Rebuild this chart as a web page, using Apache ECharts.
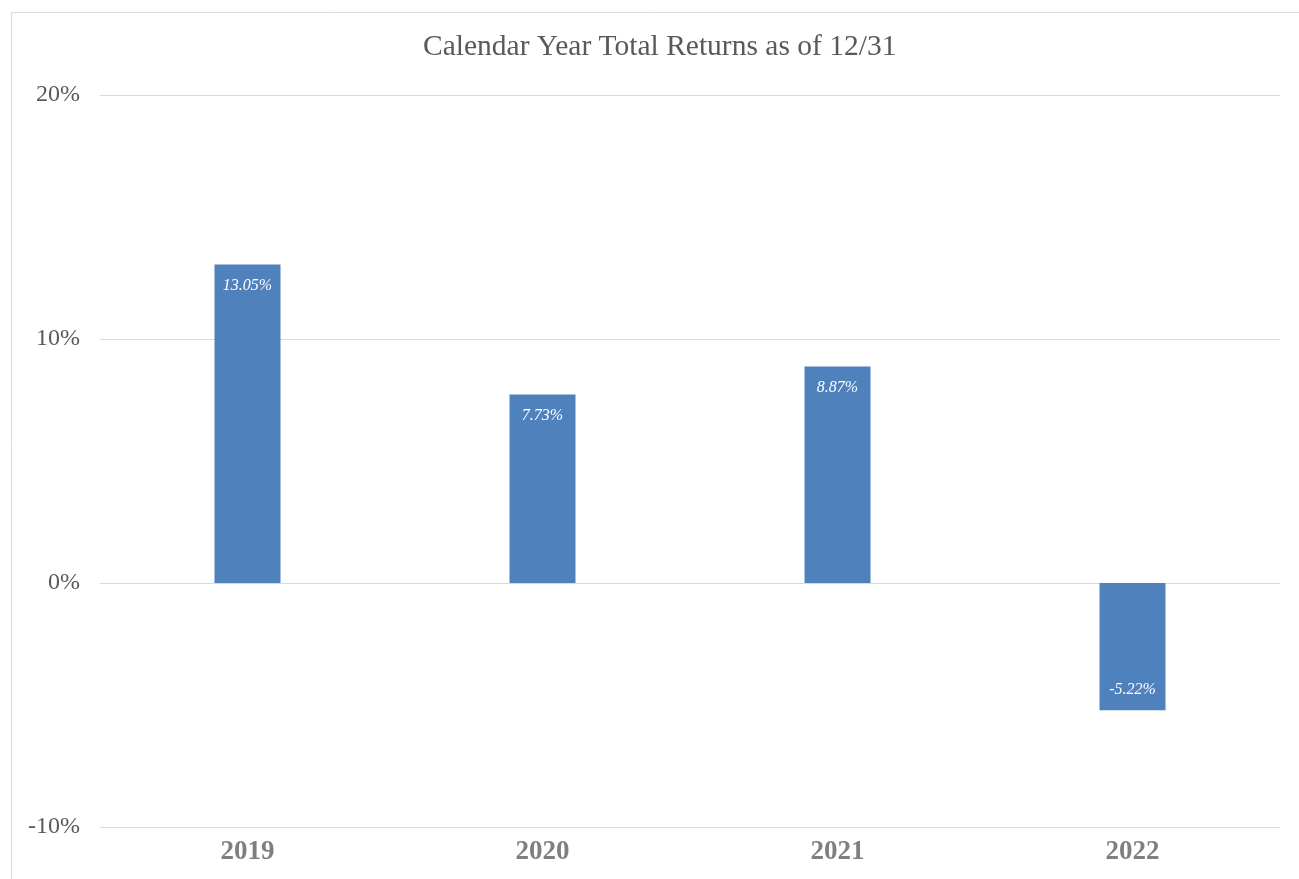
<!DOCTYPE html>
<html>
<head>
<meta charset="utf-8">
<script src="https://cdn.jsdelivr.net/npm/echarts@6/dist/echarts.min.js"></script>
<style>
  html, body { margin: 0; padding: 0; background: #fff; }
  #chart { width: 1299px; height: 879px; }
</style>
</head>
<body>
<div id="chart"></div>
<script>
// Calendar year total returns (percent)
const years = ['2019', '2020', '2021', '2022'];
const returns = [13.05, 7.73, 8.87, -5.22];
const titleText = 'Calendar Year Total Returns as of 12/31';

const serif = '"Liberation Serif", "Times New Roman", serif';

// Labels sit just inside the bar's outer end: top for gains, bottom for losses
const barData = returns.map(v => ({
  value: v,
  label: { position: v >= 0 ? 'insideTop' : 'insideBottom' }
}));

const chart = echarts.init(document.getElementById('chart'));
chart.setOption({
  animation: false,
  backgroundColor: '#fff',
  title: {
    text: titleText,
    left: 418,
    top: 27,
    textStyle: { fontFamily: serif, fontSize: 29.5, fontWeight: 'normal', color: '#595959' }
  },
  graphic: [{
    type: 'rect',
    shape: { x: 11.5, y: 12.5, width: 1400, height: 1000 },
    style: { fill: 'none', stroke: '#d9d9d9', lineWidth: 1 },
    z: -1,
    silent: true
  }],
  grid: { left: 100, right: 19, top: 95, bottom: 52 },
  xAxis: {
    type: 'category',
    data: years,
    axisLine: { show: false },
    axisTick: { show: false },
    axisLabel: {
      fontFamily: serif, fontSize: 27, fontWeight: 'bold', color: '#7f7f7f', margin: 12
    }
  },
  yAxis: {
    type: 'value',
    min: -10, max: 20, interval: 10,
    axisLine: { show: false },
    axisTick: { show: false },
    splitLine: { lineStyle: { color: '#d9d9d9', width: 1 } },
    axisLabel: {
      fontFamily: serif, fontSize: 24, color: '#595959', margin: 20,
      formatter: v => v + '%'
    }
  },
  series: [{
    type: 'bar',
    data: barData,
    barWidth: 66,
    itemStyle: { color: '#4f81bd' },
    label: {
      show: true,
      distance: 13,
      fontFamily: serif,
      fontStyle: 'italic',
      fontSize: 16,
      color: '#fff',
      formatter: p => p.value.toFixed(2) + '%'
    }
  }]
});
</script>
</body>
</html>
